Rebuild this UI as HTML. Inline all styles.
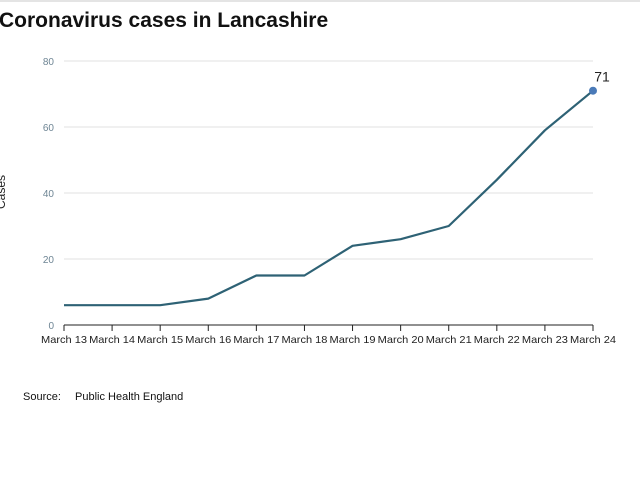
<!DOCTYPE html>
<html><head><meta charset="utf-8"><style>
body{margin:0;width:640px;height:480px;background:#fff;overflow:hidden;font-family:"Liberation Sans",sans-serif;}
</style></head><body>
<svg width="640" height="480">
<line x1="0" y1="1" x2="640" y2="1" stroke="#e4e4e4" stroke-width="2"/>
<text x="-1" y="27" font-size="21" font-weight="bold" fill="#111">Coronavirus cases in Lancashire</text>
<text transform="translate(5,192) rotate(-90)" text-anchor="middle" font-size="12" fill="#222">Cases</text>
<g id="grid"></g><g id="xaxis"></g><g id="series"></g>
<text x="23" y="400" font-size="11" fill="#111">Source:</text>
<text x="75" y="400" font-size="11" fill="#111">Public Health England</text>
</svg>
<script>
const categories=["March 13","March 14","March 15","March 16","March 17","March 18","March 19","March 20","March 21","March 22","March 23","March 24"];
const cases=[6,6,6,8,15,15,24,26,30,44,59,71];
const yTicks=[0,20,40,60,80];
const NS="http://www.w3.org/2000/svg";
const x0=64,x1=593,yb=325,yt=61,ymax=80;
const xs=i=>x0+(x1-x0)*i/(categories.length-1);
const ys=v=>yb-(yb-yt)*v/ymax;
function mk(t,a,p){const e=document.createElementNS(NS,t);for(const k in a)e.setAttribute(k,a[k]);p.appendChild(e);return e;}
const g=document.getElementById('grid');
yTicks.forEach(v=>{
 if(v>0){const l=mk('line',{x1:x0,x2:x1,y1:ys(v),y2:ys(v),stroke:'#e2e2e2','stroke-width':1},g);
 
 }
 const t=mk('text',{x:x0-10,y:ys(v)+4,'text-anchor':'end','font-size':10,fill:'#6e8594'},g);
 t.textContent=v;
 
 
});
const xa=document.getElementById('xaxis');
const ax=mk('line',{x1:x0,x2:x1,y1:yb,y2:yb,stroke:'#222','stroke-width':1},xa);


categories.forEach((c,i)=>{
 const tk=mk('line',{x1:xs(i),x2:xs(i),y1:yb,y2:yb+6,stroke:'#222'},xa);
 
 
 const t=mk('text',{x:xs(i),y:yb+18,'text-anchor':'middle','font-size':10.5,fill:'#222',textLength:46,lengthAdjust:'spacingAndGlyphs'},xa);
 t.textContent=c;
 
 
});
const s=document.getElementById('series');
const pl=mk('polyline',{points:cases.map((v,i)=>xs(i)+','+ys(v)).join(' '),fill:'none',stroke:'#2e6275','stroke-width':2.2,'stroke-linejoin':'round'},s);


const n=cases.length-1;
const dot=mk('circle',{cx:xs(n),cy:ys(cases[n]),r:4,fill:'#4a7ab8'},s);


const lab=mk('text',{x:xs(n)+9,y:ys(cases[n])-9,'text-anchor':'middle','font-size':14,fill:'#222'},s);
lab.textContent=cases[n];


</script>
</body></html>
